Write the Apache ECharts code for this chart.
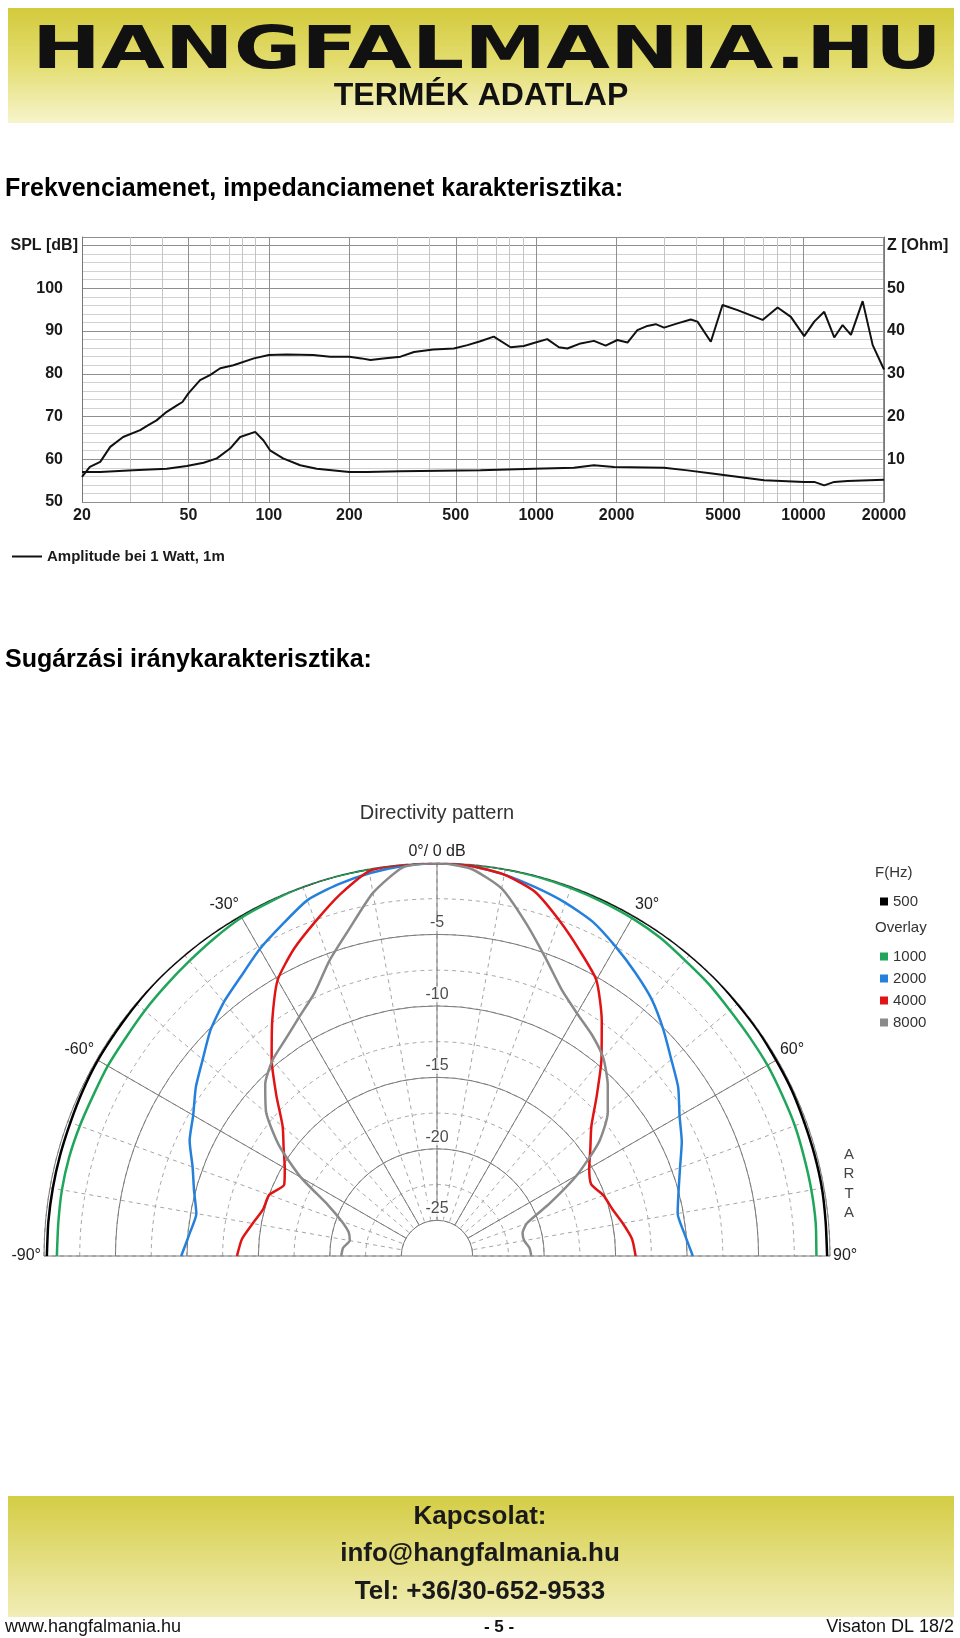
<!DOCTYPE html>
<html><head><meta charset="utf-8">
<script src="https://cdn.jsdelivr.net/npm/echarts@6/dist/echarts.min.js"></script>
<style>html,body{margin:0;padding:0;background:#fff}#c{width:960px;height:1638px}</style>
</head><body><div id="c"></div>
<script>
// ---------- Frequency / impedance response ----------
const splFreq = [20,21.4,23.4,25.5,28.5,33,35.4,38,41.5,45.3,47.5,50,55.3,60.2,65.8,73.7,87.9,100,116.6,146.6,169.4,200,222,240,268,311,349,412,492,553,618,694,802,899,994,1100,1216,1308,1466,1644,1819,2012,2195,2391,2606,2800,3008,3376,3786,4012,4500,4977,5665,7026,7998,8968,10058,10966,11952,13030,14004,15044,16640,18146,20000];
const splDb = [55.9,58.2,59.4,62.9,65.2,66.8,68.0,69.1,71.1,72.6,73.4,75.4,78.5,79.7,81.3,82.0,83.6,84.4,84.5,84.4,84.0,84.0,83.6,83.2,83.6,84.0,85.1,85.7,85.9,86.7,87.6,88.7,86.2,86.5,87.3,88.1,86.2,85.9,87.1,87.7,86.6,87.9,87.3,90.2,91.2,91.6,90.8,91.8,92.7,92.2,87.5,96.1,94.9,92.6,95.5,93.3,88.8,92.2,94.5,88.5,91.4,89.1,97.0,86.7,81.0];
const zFreq = [20,23.4,31.1,41.5,49.3,57,63.9,71.6,78.1,88.9,95.5,101,113,131,151,200,233,311,619,980,1384,1644,1954,3008,3680,4628,7120,10058,10966,11952,13030,14620,20000];
const zOhm = [7.0,7.0,7.4,7.8,8.4,9.2,10.2,12.5,15.2,16.4,14.4,12.1,10.2,8.6,7.8,7.0,7.0,7.2,7.4,7.8,8.0,8.6,8.2,8.0,7.4,6.6,5.1,4.7,4.7,3.9,4.7,4.9,5.2];
const freqMajor = [20,50,100,200,500,1000,2000,5000,10000,20000];
const freqMinor = [30,40,60,70,80,90,300,400,600,700,800,900,3000,4000,6000,7000,8000,9000];
const splLabels = [50,60,70,80,90,100];
const zLabels = [10,20,30,40,50];

// ---------- Directivity pattern ----------
const angles = [-90,-85,-80,-75,-70,-65,-60,-55,-50,-45,-40,-35,-30,-25,-20,-15,-10,-5,0,5,10,15,20,25,30,35,40,45,50,55,60,65,70,75,80,85,90];
const dir500 = [-0.2,-0.2,-0.2,-0.2,-0.2,-0.15,-0.1,-0.1,-0.05,0,0,0,0,0,0,0,0,0,0,0,0,0,0,0,0,0,0,0,-0.05,-0.05,-0.1,-0.1,-0.15,-0.15,-0.15,-0.2,-0.2];
const dir1000 = [-0.9,-0.9,-0.85,-0.85,-0.9,-0.95,-0.9,-0.9,-0.8,-0.7,-0.55,-0.35,-0.15,-0.1,0,0,0,0,0,0,0,-0.05,-0.1,-0.15,-0.2,-0.3,-0.5,-0.6,-0.75,-0.8,-0.8,-0.85,-0.85,-0.9,-0.9,-0.9,-0.95];
const dir2000 = [-9.6,-10.1,-10.4,-9.9,-9.3,-8.4,-7.8,-6.9,-6.1,-5.1,-4.3,-3.6,-2.7,-1.9,-1.0,-0.6,-0.3,-0.1,0,-0.1,-0.4,-0.8,-1.2,-1.7,-2.5,-3.3,-4.1,-5.1,-6.1,-6.9,-7.9,-8.6,-9.4,-10.0,-10.4,-10.1,-9.6];
const dir4000 = [-13.5,-13.8,-14.4,-14.9,-15.0,-15.7,-15.2,-14.4,-13.4,-11.6,-9.5,-7.4,-5.2,-3.8,-2.6,-1.3,-0.15,0,0,-0.1,-0.4,-1.1,-2.5,-3.9,-5.2,-7.4,-9.6,-11.7,-13.4,-14.4,-15.2,-15.6,-15.1,-14.8,-14.3,-13.8,-13.6];
const dir8000 = [-20.8,-20.9,-21.3,-21.1,-20.4,-19.1,-16.5,-14.0,-11.9,-10.5,-9.6,-9.0,-8.2,-7.2,-5.5,-3.8,-1.7,-0.2,0,-0.3,-1.4,-3.4,-5.3,-6.9,-7.9,-8.6,-9.4,-10.6,-11.9,-13.7,-16.2,-18.8,-20.8,-21.3,-21.3,-21.0,-20.9];
const ringLabels = [-5,-10,-15,-20,-25];

const FONT = '"Liberation Sans", Arial, sans-serif';
const chart = echarts.init(document.getElementById('c'), null, {renderer: 'canvas'});
const L = Math.log10;

function bannerFill(top, mid, bottom) {
  return new echarts.graphic.LinearGradient(0, 0, 0, 1, [
    {offset: 0, color: top}, {offset: 0.5, color: mid}, {offset: 1, color: bottom}
  ]);
}
function txt(x, y, text, font, fill, align, extraStyle, extra) {
  return Object.assign({
    type: 'text', x: x, y: y, silent: true, z: 20,
    style: Object.assign({text: text, font: font, fill: fill, align: align, textAlign: align,
            verticalAlign: 'middle', textVerticalAlign: 'middle'}, extraStyle || {})
  }, extra || {});
}

const dirSeries = [
  ['500', dir500, '#000000'],
  ['1000', dir1000, '#1fa65a'],
  ['2000', dir2000, '#2580dc'],
  ['4000', dir4000, '#e01414'],
  ['8000', dir8000, '#8a8a8a']
].map(([name, vals, color]) => ({
  name: name, type: 'line', coordinateSystem: 'polar', polarIndex: 1,
  data: angles.map((a, i) => [vals[i], a]),
  showSymbol: false, symbol: 'none', smooth: 0.2,
  lineStyle: {color: color, width: 2.5}, itemStyle: {color: color}, z: 5, silent: true
}));

const option = {
  animation: false,
  textStyle: {fontFamily: FONT},
  grid: {left: 82, right: 76, top: 237, bottom: 1638 - 502},
  xAxis: {type: 'value', min: L(20) - 1e-6, max: L(20000) + 1e-6, show: true,
    axisLine: {show: false},
    axisTick: {show: false, customValues: freqMajor.map(L)},
    axisLabel: {show: true, customValues: freqMajor.map(L), margin: 6, fontSize: 16, fontWeight: 'bold',
      color: '#1a1a1a', formatter: v => String(Math.round(Math.pow(10, v)))},
    splitLine: {show: false}},
  yAxis: [
    {type: 'value', min: 50, max: 112, interval: 10, position: 'left', z: 3,
     axisLine: {show: true, lineStyle: {color: '#777'}}, axisTick: {show: false},
     splitLine: {show: true, lineStyle: {color: '#8f8f8f', width: 1}},
     axisLabel: {margin: 4, fontSize: 16, fontWeight: 'bold', color: '#1a1a1a',
       formatter: v => v === 110 ? 'SPL [dB]' : (splLabels.indexOf(v) >= 0 ? '{n|' + v + '}' : ''),
       rich: {n: {padding: [0, 15, 0, 0], fontSize: 16, fontWeight: 'bold', color: '#1a1a1a'}}}},
    {type: 'value', min: 0, max: 62, interval: 10, position: 'right', z: 3,
     axisLine: {show: true, lineStyle: {color: '#777'}}, axisTick: {show: false}, splitLine: {show: false},
     axisLabel: {margin: 3, fontSize: 16, fontWeight: 'bold', color: '#1a1a1a',
       formatter: v => v === 60 ? 'Z [Ohm]' : (zLabels.indexOf(v) >= 0 ? String(v) : '')}},
    {type: 'value', min: 50, max: 112, interval: 2, position: 'left', z: 1,
     axisLine: {show: false}, axisTick: {show: false}, axisLabel: {show: false},
     splitLine: {show: true, lineStyle: {color: '#d2d2d2', width: 1}}}
  ],
  polar: [
    {center: [437, 1256], radius: [35.7, 393]},
    {center: [437, 1256], radius: [35.7, 393]},
    {center: [437, 1256], radius: [0, 35.7]}
  ],
  angleAxis: [
    {polarIndex: 0, type: 'value', min: -90, max: 90, interval: 10, startAngle: 180, endAngle: 0, clockwise: true, z: 1,
     axisLine: {show: false}, axisTick: {show: false}, axisLabel: {show: false},
     splitLine: {show: true, lineStyle: {color: '#a5a5a5', type: [4, 4], width: 1}}},
    {polarIndex: 1, type: 'value', min: -90, max: 90, interval: 30, startAngle: 180, endAngle: 0, clockwise: true, z: 2,
     axisLine: {show: false}, axisTick: {show: false},
     axisLabel: {show: true, margin: 3, fontSize: 16, color: '#222',
       formatter: v => v === 0 ? '0°/ 0 dB' : v + '°'},
     splitLine: {show: true, lineStyle: {color: '#7a7a7a', width: 1}}},
    {polarIndex: 2, type: 'value', min: -90, max: 90, interval: 180, startAngle: 180, endAngle: 0, clockwise: true, z: 2,
     axisLine: {show: false}, axisTick: {show: false}, axisLabel: {show: false},
     splitLine: {show: true, lineStyle: {color: '#7a7a7a', width: 1}}}
  ],
  radiusAxis: [
    {polarIndex: 0, type: 'value', min: -25, max: 0, interval: 2.5, z: 1,
     axisLine: {show: false}, axisTick: {show: false}, axisLabel: {show: false},
     splitLine: {show: true, lineStyle: {color: '#a5a5a5', type: [4, 4], width: 1}}},
    {polarIndex: 1, type: 'value', min: -25, max: 0, interval: 5, z: 2,
     axisLine: {show: false}, axisTick: {show: false}, axisLabel: {show: false},
     splitLine: {show: true, lineStyle: {color: '#7a7a7a', width: 1}}},
    {polarIndex: 2, type: 'value', min: 0, max: 1, z: 1,
     axisLine: {show: false}, axisTick: {show: false}, axisLabel: {show: false}, splitLine: {show: false}}
  ],
  legend: [
    {data: ['Amplitude bei 1 Watt, 1m'], left: 7, top: 544, icon: 'rect', itemWidth: 30, itemHeight: 2, selectedMode: false,
     textStyle: {fontSize: 15, fontWeight: 'bold', color: '#1a1a1a', fontFamily: FONT}},
    {data: ['500'], orient: 'vertical', left: 875, top: 889, icon: 'rect', itemWidth: 8, itemHeight: 8, selectedMode: false,
     textStyle: {fontSize: 15, color: '#333', fontFamily: FONT}},
    {data: ['1000', '2000', '4000', '8000'], orient: 'vertical', left: 875, top: 944, itemGap: 7, icon: 'rect',
     itemWidth: 8, itemHeight: 8, selectedMode: false, textStyle: {fontSize: 15, color: '#333', fontFamily: FONT}}
  ],
  series: [
    {name: 'grid-lines', type: 'line', data: [], z: 1, silent: true,
     markLine: {silent: true, symbol: ['none', 'none'], animation: false,
       data: freqMajor.map(f => ({xAxis: L(f), lineStyle: {color: '#8f8f8f', width: 1, type: 'solid'},
               label: {show: false}}))
         .concat(freqMinor.map(f => ({xAxis: L(f), lineStyle: {color: '#c4c4c4', width: 1, type: 'solid'},
               label: {show: false}})))}},
    {name: 'Amplitude bei 1 Watt, 1m', type: 'line', yAxisIndex: 0,
     data: splFreq.map((f, i) => [L(f), splDb[i]]), showSymbol: false, symbol: 'none',
     lineStyle: {color: '#111', width: 2}, itemStyle: {color: '#111'}, z: 5, silent: true},
    {name: 'Z', type: 'line', yAxisIndex: 1,
     data: zFreq.map((f, i) => [L(f), zOhm[i]]), showSymbol: false, symbol: 'none',
     lineStyle: {color: '#111', width: 2}, itemStyle: {color: '#111'}, z: 5, silent: true}
  ].concat(dirSeries).concat([
    {name: 'ring-labels', type: 'scatter', coordinateSystem: 'polar', polarIndex: 1,
     data: ringLabels.map(v => [v, 0]), symbolSize: 1, itemStyle: {color: 'rgba(0,0,0,0)'}, z: 10, silent: true,
     label: {show: true, position: 'top', distance: 3, formatter: p => String(p.value[0]), fontSize: 16,
             color: '#222', backgroundColor: '#fff', padding: [0, 2], fontFamily: FONT}}
  ]),
  graphic: [
    {type: 'rect', shape: {x: 8, y: 8, width: 946, height: 115}, silent: true, z: 0,
     style: {fill: bannerFill('#d3ca3c', '#e4de72', '#f7f4cc')}},
    txt(487, 53, 'HANGFALMANIA.HU', 'bold 58px "DejaVu Sans"', '#111', 'center',
        {shadowBlur: 8, shadowColor: 'rgba(0,0,0,0.55)'}, {scaleX: 1.42}),
    txt(481, 96, 'TERMÉK ADATLAP', 'bold 32px ' + FONT, '#111', 'center'),
    txt(5, 189, 'Frekvenciamenet, impedanciamenet karakterisztika:', 'bold 25px ' + FONT, '#000', 'left'),
    txt(5, 660, 'Sugárzási iránykarakterisztika:', 'bold 25px ' + FONT, '#000', 'left'),
    txt(437, 813, 'Directivity pattern', '20px ' + FONT, '#333', 'center'),
    txt(875, 873, 'F(Hz)', '15px ' + FONT, '#333', 'left'),
    txt(875, 928, 'Overlay', '15px ' + FONT, '#333', 'left'),
    txt(849, 1184, 'A\nR\nT\nA', '15px ' + FONT, '#444', 'center', {lineHeight: 19.5}),
    {type: 'rect', shape: {x: 8, y: 1496, width: 946, height: 121}, silent: true, z: 0,
     style: {fill: bannerFill('#d4cd45', '#e3dd7e', '#f1edb6')}},
    txt(480, 1517, 'Kapcsolat:', 'bold 26px ' + FONT, '#1a1a1a', 'center'),
    txt(480, 1554, 'info@hangfalmania.hu', 'bold 26px ' + FONT, '#1a1a1a', 'center'),
    txt(480, 1592, 'Tel: +36/30-652-9533', 'bold 26px ' + FONT, '#1a1a1a', 'center'),
    txt(5, 1627, 'www.hangfalmania.hu', '18px ' + FONT, '#111', 'left'),
    txt(499, 1627, '- 5 -', 'bold 17px ' + FONT, '#111', 'center'),
    txt(954, 1627, 'Visaton DL 18/2', '18px ' + FONT, '#111', 'right')
  ]
};
chart.setOption(option);
</script>
</body></html>
